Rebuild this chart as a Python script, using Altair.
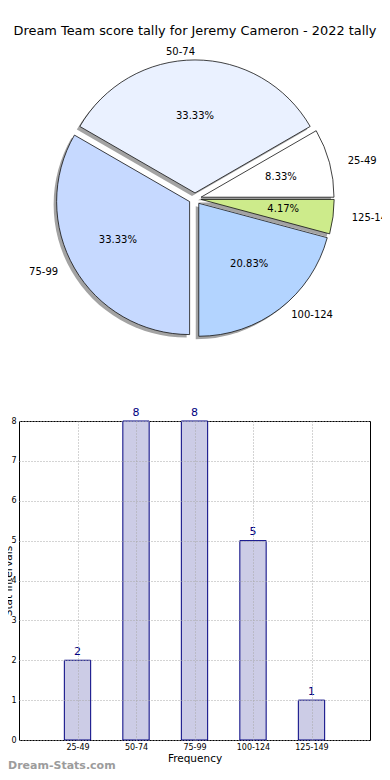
import math
import altair as alt
import pandas as pd

# ---------------- data ----------------
chart_title = "Dream Team score tally for Jeremy Cameron - 2022 tally"
categories = ["25-49", "50-74", "75-99", "100-124", "125-149"]
frequencies = [2, 8, 8, 5, 1]
slice_colors = ["#ffffff", "#eaf1ff", "#c6d9ff", "#b3d4ff", "#cdeb8b"]
y_ticks = [0, 1, 2, 3, 4, 5, 6, 7, 8]
x_title = "Frequency"
y_title = "Stat Intervals"
watermark = "Dream-Stats.com"

# ---------------- layout / style ----------------
FONT = "DejaVu Sans"
W, H = 351, 319                      # bar plot area (page x 19..370, y 421..740)
OX, OY = 19, 421                     # page position of plot origin
TOTAL_W, TOTAL_H = 374, 764
PAD = {"left": OX - 8, "top": OY - 8,
       "right": TOTAL_W - (OX - 8) - W, "bottom": TOTAL_H - (OY - 8) - H}

PCX, PCY = 195 - OX, 198.7 - OY      # pie centre in plot pixels
RX, RY = 138, 128
EXPL = 0.045
R_ARC = 133
SH = 3

df = pd.DataFrame({
    "cat": categories,
    "freq": frequencies,
    "idx": list(range(1, len(categories) + 1)),
    "color": slice_colors,
})

pie_base = (
    alt.Chart(df)
    .transform_joinaggregate(total="sum(freq)")
    .transform_window(cum="sum(freq)", sort=[alt.SortField("idx", order="ascending")], frame=[None, 0])
    .transform_calculate(phi="2 * PI * (datum.cum - datum.freq / 2) / datum.total")
    .transform_calculate(
        cx=f"{PCX} + {EXPL * RX} * cos(datum.phi)",
        cy=f"{PCY} - {EXPL * RY} * sin(datum.phi)",
    )
    .transform_calculate(
        sx=f"datum.cx - {SH}",
        sy=f"datum.cy + {SH}",
        lx=f"datum.cx + {1.1 * RX} * cos(datum.phi)",
        ly=f"datum.cy - {1.1 * RY} * sin(datum.phi)",
        px=f"datum.cx + {0.6 * RX} * cos(datum.phi)",
        py=f"datum.cy - {0.6 * RY} * sin(datum.phi)",
        pct="format(datum.freq / datum.total * 100, '.2f') + '%'",
        side="cos(datum.phi) > 1e-9 ? 'L' : 'R'",
    )
)

theta_scale = alt.Scale(range=[math.pi / 2, math.pi / 2 - 2 * math.pi])

shadow = pie_base.mark_arc(radius=R_ARC, fill="#a3a3a3", stroke=None).encode(
    theta=alt.Theta("freq:Q", stack=True, scale=theta_scale),
    order=alt.Order("idx:Q"),
    x=alt.X("sx:Q", scale=None, axis=None),
    y=alt.Y("sy:Q", scale=None, axis=None),
)

slices = pie_base.mark_arc(radius=R_ARC, stroke="#111111", strokeWidth=0.8).encode(
    theta=alt.Theta("freq:Q", stack=True, scale=theta_scale),
    order=alt.Order("idx:Q"),
    x=alt.X("cx:Q", scale=None, axis=None),
    y=alt.Y("cy:Q", scale=None, axis=None),
    fill=alt.Fill("color:N", scale=None, legend=None),
)

lab_left = pie_base.transform_filter("datum.side == 'L'").mark_text(
    align="left", baseline="middle", font=FONT, fontSize=10, color="#000000"
).encode(
    x=alt.X("lx:Q", scale=None, axis=None),
    y=alt.Y("ly:Q", scale=None, axis=None),
    text="cat:N",
)
lab_right = pie_base.transform_filter("datum.side == 'R'").mark_text(
    align="right", baseline="middle", font=FONT, fontSize=10, color="#000000"
).encode(
    x=alt.X("lx:Q", scale=None, axis=None),
    y=alt.Y("ly:Q", scale=None, axis=None),
    text="cat:N",
)
pct_text = pie_base.mark_text(
    align="center", baseline="middle", font=FONT, fontSize=10, color="#000000"
).encode(
    x=alt.X("px:Q", scale=None, axis=None),
    y=alt.Y("py:Q", scale=None, axis=None),
    text="pct:N",
)

pie = alt.layer(shadow, slices, lab_left, lab_right, pct_text)

# ---------------- bar chart ----------------
bar_base = alt.Chart(df).transform_calculate(x0="datum.idx - 0.225", x1="datum.idx + 0.225")

label_expr = f"{categories}[datum.value - 1]"
x_scale = alt.Scale(domain=[0, len(categories) + 1], nice=False, zero=False)
y_scale = alt.Scale(domain=[0, 8], nice=False, zero=True)

x_axis = alt.Axis(
    values=list(range(1, len(categories) + 1)),
    labelExpr=label_expr,
    title=x_title,
    grid=True, gridColor="#a8a8a8", gridDash=[1, 2], gridWidth=1,
    ticks=False, domain=False, labelOverlap=False,
    labelFont=FONT, labelFontSize=8, labelPadding=3, labelColor="#000000",
    titleFont=FONT, titleFontSize=10.5, titleFontWeight="normal", titlePadding=2,
    titleColor="#000000",
    zindex=1,
)
y_axis = alt.Axis(
    values=y_ticks,
    title=y_title,
    grid=True, gridColor="#a8a8a8", gridDash=[1, 2], gridWidth=1,
    ticks=False, domain=False, labelOverlap=False,
    labelFont=FONT, labelFontSize=8, labelPadding=3, labelColor="#000000",
    titleFont=FONT, titleFontSize=10.5, titleFontWeight="normal",
    titleColor="#000000", titleAngle=270, titleBaseline="alphabetic",
    titleAlign="center", titleX=11.5 - OX, titleY=H / 2,
    zindex=1,
)

bars = bar_base.mark_bar(fill="#ccccE6", stroke="#000080", strokeWidth=1).encode(
    x=alt.X("x0:Q", scale=x_scale, axis=x_axis),
    x2="x1:Q",
    y=alt.Y("freq:Q", scale=y_scale, axis=y_axis),
    y2=alt.datum(0),
)

bar_vals = bar_base.mark_text(
    align="center", baseline="alphabetic", dy=-5.5, font=FONT, fontSize=11, color="#000080"
).encode(
    x=alt.X("idx:Q", scale=x_scale, axis=x_axis),
    y=alt.Y("freq:Q", scale=y_scale, axis=y_axis),
    text="freq:Q",
)

bar_chart = alt.layer(bars, bar_vals)

# ---------------- title & watermark ----------------
title_mark = alt.Chart(pd.DataFrame({"t": [chart_title]})).mark_text(
    align="center", baseline="alphabetic", font=FONT, fontSize=12.9, color="#000000"
).encode(x=alt.value(195 - OX), y=alt.value(34.5 - OY), text="t:N")

wm_mark = alt.Chart(pd.DataFrame({"t": [watermark]})).mark_text(
    align="left", baseline="alphabetic", font=FONT, fontSize=11, fontWeight="bold", color="#9c9c9c"
).encode(x=alt.value(8 - OX), y=alt.value(768.5 - OY), text="t:N")

chart = (
    alt.layer(bar_chart, pie, title_mark, wm_mark)
    .properties(width=W, height=H, padding=PAD, autosize=alt.AutoSizeParams(type="none"))
    .configure(font=FONT)
    .configure_view(stroke="#000000", strokeWidth=1)
)

chart.save("out.html", embed_options={"renderer": "svg", "actions": False})
